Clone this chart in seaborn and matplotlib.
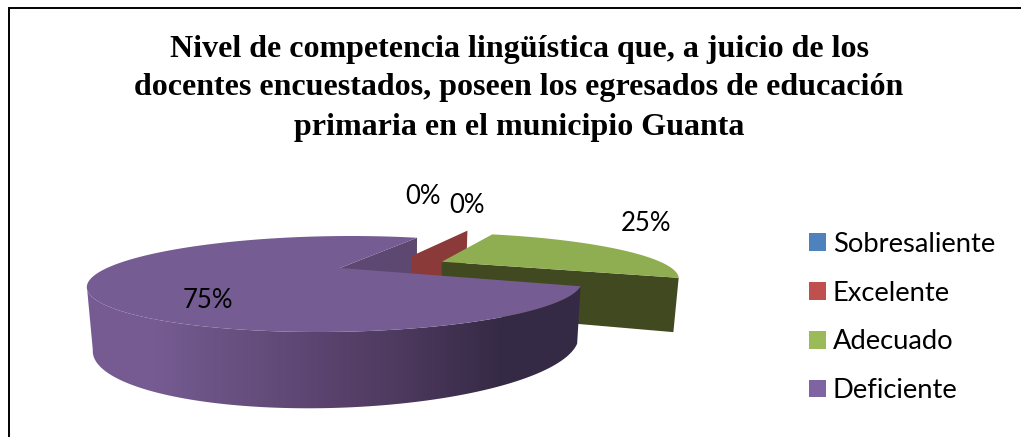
import numpy as np
import matplotlib
matplotlib.use("Agg")
import matplotlib.pyplot as plt
from matplotlib.colors import LinearSegmentedColormap
from matplotlib.patches import Patch, Polygon
import seaborn as sns

# ---- data -----------------------------------------------------------------
categories = ["Sobresaliente", "Excelente", "Adecuado", "Deficiente"]
values = [0, 0, 25, 75]
value_labels = ["0%", "0%", "25%", "75%"]
title_lines = ["Nivel de competencia lingüística que, a juicio de los",
               "docentes encuestados, poseen los egresados de educación",
               "primaria en el municipio Guanta"]

# ---- style ----------------------------------------------------------------
sns.set_theme(style="white")
plt.rcParams["font.family"] = ["Lato", "DejaVu Sans"]
legend_colors = sns.color_palette(["#4F81BD", "#C0504D", "#9BBB59", "#8064A2"])
RED_WALL, GREEN_TOP, GREEN_WALL = "#8A3A38", "#8FAD51", "#40491F"
PURPLE_TOP, PURPLE_WALL = "#755C92", "#5C4870"
rim_cmap = LinearSegmentedColormap.from_list(
    "rim", [(0.0, "#775C94"), (0.14, "#755B91"), (0.62, "#4F3A60"),
            (0.84, "#352A45"), (1.0, "#352A45")])

fig = plt.figure(figsize=(10.21, 4.37), dpi=100, facecolor="white")
ax = fig.add_axes([0, 0, 1, 1])
ax.axis("off")


# Perspective projection of the unit disc (u right, v away from viewer).
def project(u, v):
    w = 1 + v / 3
    return (340 + 233 * u + 128 * v) / w, (268 + 46.67 * v) / w


def drop(u, v):
    """Bottom-of-slab counterpart of a point on the top face."""
    x, y = project(u, v)
    w = 1 + v / 3
    return x + 0.019 * (400 - x), y + (54 - 3 * np.minimum(u, 1)) / w ** 0.85


# Slice angles from the data (clockwise from the first-slice angle).
START = 68.0
shares = np.array(values, dtype=float) / sum(values) * 360
edges = START - np.concatenate([[0], np.cumsum(shares)])
offsets = [(0.32, 0.31), (0.32, 0.31), (0.45, 0.155), (0.0, 0.0)]
radii = [1.0, 1.0, 0.985, 1.0]


def rim_point(i, angle):
    a = np.radians(angle)
    return offsets[i][0] + radii[i] * np.cos(a), offsets[i][1] + radii[i] * np.sin(a)


def face(i, n=240):
    us, vs = rim_point(i, np.linspace(edges[i], edges[i + 1], n))
    return project(np.r_[offsets[i][0], us], np.r_[offsets[i][1], vs])


def wall(i, angle):
    u0, v0 = offsets[i]
    u1, v1 = rim_point(i, angle)
    pts = [project(u0, v0), project(u1, v1), drop(u1, v1), drop(u0, v0)]
    return [p[0] for p in pts], [p[1] for p in pts]


# Back walls and exploded slices
ax.fill(*wall(3, edges[4]), color=PURPLE_WALL, lw=0, zorder=1)
ax.fill(*wall(1, edges[2]), color=RED_WALL, lw=0, zorder=2)
ax.fill(*wall(2, edges[3]), color=GREEN_WALL, lw=0, zorder=3)
ax.fill(*face(2), color=GREEN_TOP, lw=0, zorder=3)

# Deficiente rim with its horizontal shading, then the top face
rim_u, rim_v = rim_point(3, np.linspace(edges[3], -158, 300))
tx, ty = project(rim_u, rim_v)
bx, by = drop(rim_u, rim_v)
rim_poly = Polygon(np.c_[np.r_[tx, bx[::-1]], np.r_[ty, by[::-1]]], closed=True,
                   transform=ax.transData, fc="none", ec="none")
ax.add_patch(rim_poly)
shade = ax.imshow(np.linspace(0, 1, 512)[None, :], cmap=rim_cmap, aspect="auto",
                  extent=[87, 580, 437, 0], zorder=4, interpolation="bilinear")
shade.set_clip_path(rim_poly)
ax.fill(*face(3), color=PURPLE_TOP, lw=0, zorder=5)

ax.set_xlim(0, 1021)
ax.set_ylim(437, 0)

# Value labels
label_xy = [(423, 196), (467, 205.5), (646, 223.5), (208, 300)]
for txt, (x, y) in zip(value_labels, label_xy):
    ax.text(x, y, txt, fontsize=18.5, color="black", ha="center", va="center", zorder=6)

# Title
for line, y in zip(title_lines, [49, 88, 127]):
    ax.text(519, y, line, fontsize=23.0, fontweight="bold", color="black",
            family="Liberation Serif", ha="center", va="center")

# Frame: top and left rules only
ax.plot([8.5, 8.5, 1021], [437, 7.5, 7.5], color="black", lw=1.4, zorder=7,
        solid_joinstyle="miter", clip_on=False)

# Legend
handles = [Patch(facecolor=c, edgecolor="none", label=n)
           for c, n in zip(legend_colors, categories)]
ax.legend(handles=handles, loc="center left", bbox_to_anchor=(809 / 1021, 1 - 317.5 / 437),
          frameon=False, fontsize=19.7, labelcolor="black", handlelength=0.62,
          handleheight=0.62, handletextpad=0.25, labelspacing=0.87,
          borderpad=0, borderaxespad=0)

fig.savefig("out.png", dpi=100)
